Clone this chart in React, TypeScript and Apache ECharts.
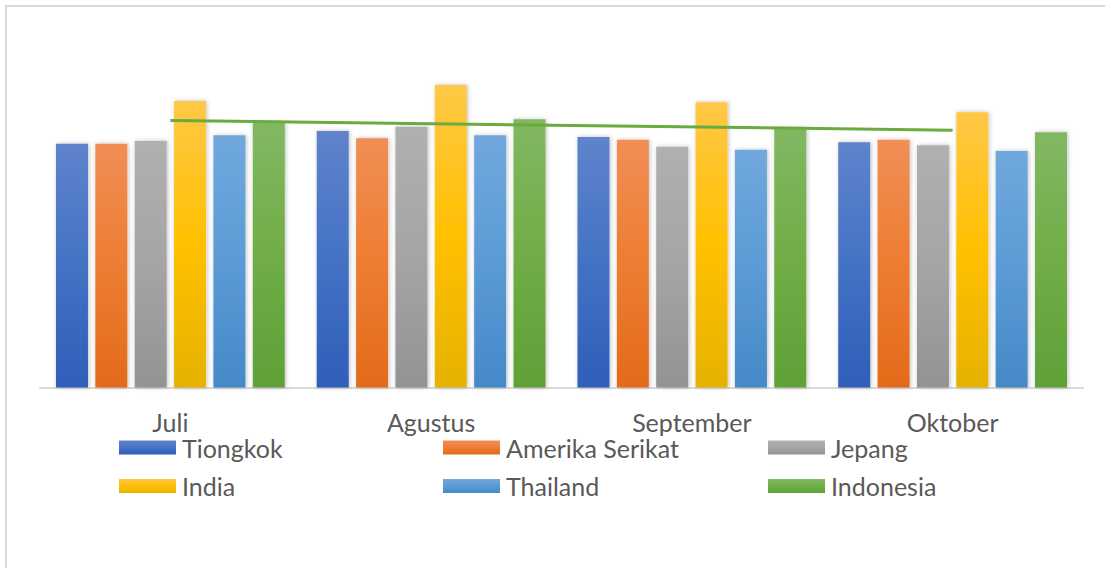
import React, { useEffect, useRef } from "react";
import * as echarts from "echarts";

const categories = ["Juli", "Agustus", "September", "Oktober"];
const tiongkok = [243.8, 256.5, 250.5, 245.2];
const amerikaSerikat = [243.8, 249.2, 247.8, 247.8];
const jepang = [246.5, 260.8, 240.8, 242.2];
const india = [286.5, 302.5, 285.2, 275.2];
const thailand = [252.2, 252.2, 237.8, 236.5];
const indonesia = [265.5, 268.2, 259.5, 255.2];
// linear trendline of Indonesia, read at its two ends (Juli, Oktober)
const trendIndonesia = [267, null, null, 257.3];

const FONT = "Lato, 'Open Sans', sans-serif";
const TEXT = "#595959";

function grad(top: string, mid: string, bottom: string) {
  return new echarts.graphic.LinearGradient(0, 0, 0, 1, [
    { offset: 0, color: top },
    { offset: 0.5, color: mid },
    { offset: 1, color: bottom },
  ]);
}

const seriesDefs = [
  { name: "Tiongkok", data: tiongkok, c: ["#5f83cc", "#4472C4", "#2f5eb9"] },
  { name: "Amerika Serikat", data: amerikaSerikat, c: ["#f18e56", "#ED7D31", "#e36b1b"] },
  { name: "Jepang", data: jepang, c: ["#b0b0b0", "#A5A5A5", "#939393"] },
  { name: "India", data: india, c: ["#ffc847", "#FFC000", "#e6b200"] },
  { name: "Thailand", data: thailand, c: ["#70a8de", "#5B9BD5", "#4589c8"] },
  { name: "Indonesia", data: indonesia, c: ["#82b863", "#70AD47", "#5fa037"] },
];

export default function App() {
  const ref = useRef<HTMLDivElement>(null);
  useEffect(() => {
    if (!ref.current) return;
    const chart = echarts.init(ref.current, null, { renderer: "svg" });
    const legendCommon = {
      orient: "vertical" as const,
      top: 434,
      itemWidth: 57,
      itemHeight: 14,
      itemGap: 11.5,
      icon: "rect",
      textStyle: { color: TEXT, fontSize: 25, fontFamily: FONT, lineHeight: 27, padding: [0, 0, 0, 1] },
      padding: 0,
    };
    chart.setOption({
      animation: false,
      backgroundColor: "#ffffff",
      graphic: [
        {
          type: "rect",
          shape: { x: 6, y: 6, width: 1120, height: 620 },
          style: { fill: "none", stroke: "#d9d9d9", lineWidth: 2 },
          silent: true,
          z: -1,
        },
      ],
      legend: [
        { ...legendCommon, left: 119, data: ["Tiongkok", "India"] },
        { ...legendCommon, left: 443, data: ["Amerika Serikat", "Thailand"] },
        { ...legendCommon, left: 768, data: ["Jepang", "Indonesia"] },
      ],
      grid: { left: 40, right: 22, top: 37.5, height: 350, containLabel: false },
      xAxis: {
        type: "category",
        data: categories,
        axisLine: { lineStyle: { color: "#d9d9d9", width: 2 } },
        axisTick: { show: false },
        axisLabel: { color: TEXT, fontSize: 25, fontFamily: FONT, margin: 22 },
      },
      yAxis: {
        type: "value",
        min: 0,
        max: 350,
        show: false,
        splitLine: { show: false },
      },
      series: [
        ...seriesDefs.map((s) => ({
          name: s.name,
          type: "bar",
          data: s.data,
          barWidth: 32,
          barGap: "23%",
          itemStyle: {
            color: grad(s.c[0], s.c[1], s.c[2]),
            shadowBlur: 4,
            shadowColor: "rgba(0,0,0,0.25)",
            shadowOffsetX: 1,
            shadowOffsetY: 0,
          },
        })),
        {
          name: "Linear (Indonesia)",
          type: "line",
          data: trendIndonesia,
          connectNulls: true,
          symbol: "none",
          lineStyle: { color: "#6aab3f", width: 3 },
          z: 5,
        },
      ],
    });
    return () => chart.dispose();
  }, []);
  return (
    <div
      ref={ref}
      style={{ position: "absolute", left: 0, top: 0, width: 1105, height: 568 }}
    />
  );
}
